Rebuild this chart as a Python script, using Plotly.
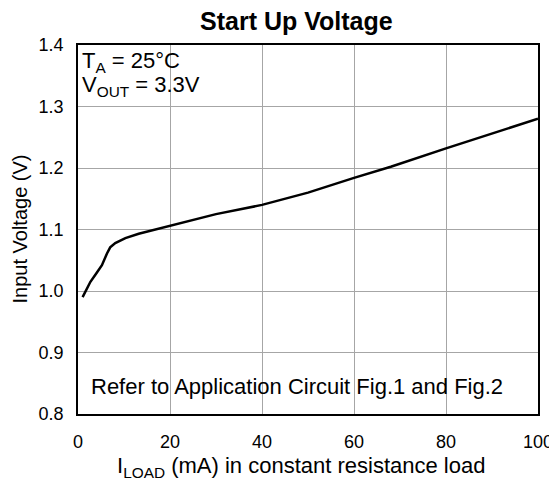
import plotly.graph_objects as go

# Data
load_ma = [1, 2.7, 4, 5.2, 6.3, 7, 8.1, 10.3, 13.2, 15.3, 17.5, 20, 25, 30, 40, 50, 60, 68, 80, 90, 100]
vin = [0.990, 1.015, 1.029, 1.042, 1.061, 1.071, 1.078, 1.086, 1.093, 1.097, 1.102, 1.106,
       1.116, 1.125, 1.140, 1.160, 1.184, 1.202, 1.232, 1.256, 1.280]

x_ticks = [0, 20, 40, 60, 80, 100]
y_ticks = [0.8, 0.9, 1.0, 1.1, 1.2, 1.3, 1.4]

FONT = "Arial, Liberation Sans, sans-serif"

fig = go.Figure()
fig.add_trace(go.Scatter(x=load_ma, y=vin, mode="lines",
                         line=dict(color="black", width=2.5),
                         showlegend=False, hoverinfo="skip"))

# page body has an 8px default margin, so the figure is sized/offset to compensate
fig.update_layout(
    width=549, height=475,
    margin=dict(l=70, r=19, t=37, b=69),
    paper_bgcolor="white", plot_bgcolor="white",
    font=dict(family=FONT, color="black", size=18),
    showlegend=False,
    shapes=[
        dict(type="rect", xref="paper", yref="paper", x0=0.002, x1=0.289, y0=0.80, y1=0.986,
             fillcolor="white", line=dict(width=0), layer="between"),
        dict(type="rect", xref="paper", yref="paper", x0=0.003, x1=0.99, y0=0.019, y1=0.1165,
             fillcolor="white", line=dict(width=0), layer="between"),
    ],
    annotations=[
        dict(text="<b>Start Up Voltage</b>", xref="paper", yref="paper", x=0.474, y=1.0,
             yshift=24, xanchor="center", yanchor="middle", showarrow=False,
             font=dict(family=FONT, size=25, color="black")),
        dict(text="T<sub>A</sub> = 25°C", xref="paper", yref="paper", x=0.004, y=0.953,
             xanchor="left", yanchor="middle", showarrow=False,
             font=dict(family=FONT, size=22, color="black")),
        dict(text="V<sub>OUT</sub> = 3.3V", xref="paper", yref="paper", x=0.004, y=0.888,
             xanchor="left", yanchor="middle", showarrow=False,
             font=dict(family=FONT, size=22, color="black")),
        dict(text="Refer to Application Circuit Fig.1 and Fig.2", xref="paper", yref="paper",
             x=0.475, y=0.074, xanchor="center", yanchor="middle", showarrow=False,
             font=dict(family=FONT, size=22, color="black")),
        dict(text="I<sub>LOAD</sub> (mA) in constant resistance load", xref="paper", yref="paper",
             x=0.485, y=0.0, yshift=-53, xanchor="center", yanchor="middle", showarrow=False,
             font=dict(family=FONT, size=22, color="black")),
        dict(text="Input Voltage (V)", xref="paper", yref="paper", textangle=-90,
             x=0.0, xshift=-59, y=0.5, xanchor="center", yanchor="middle", showarrow=False,
             font=dict(family=FONT, size=20, color="black")),
    ],
)

fig.update_xaxes(range=[0, 100], tickvals=x_ticks, ticktext=[str(v) for v in x_ticks],
                 showgrid=True, gridcolor="#a6a6a6", gridwidth=1,
                 showline=True, linecolor="black", linewidth=1.5, mirror=True,
                 ticks="", ticklabelstandoff=11, zeroline=False, automargin=False,
                 tickfont=dict(family=FONT, size=18, color="black"))
fig.update_yaxes(range=[0.8, 1.4], tickvals=y_ticks, ticktext=[f"{v:.1f}" for v in y_ticks],
                 showgrid=True, gridcolor="#a6a6a6", gridwidth=1,
                 showline=True, linecolor="black", linewidth=1.5, mirror=True,
                 ticks="", ticklabelstandoff=9, zeroline=False, automargin=False,
                 tickfont=dict(family=FONT, size=18, color="black"))

fig.write_html("out.html")
